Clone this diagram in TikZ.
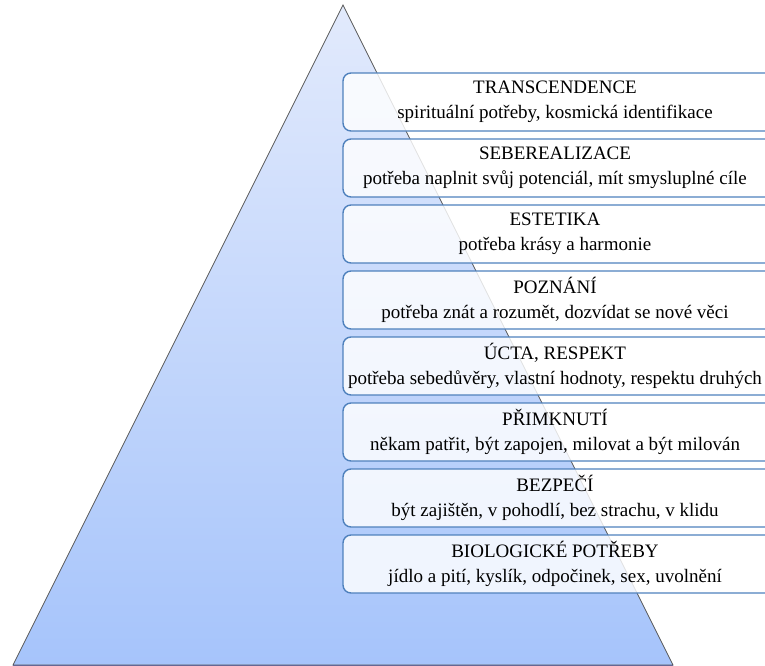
\documentclass[tikz,border=0pt]{standalone}
\usepackage{fontspec}
\setmainfont{Liberation Serif}
\definecolor{boxblue}{HTML}{4F81BD}
\definecolor{pyrtop}{HTML}{E2EAFC}
\definecolor{pyrbot}{HTML}{A6C4FB}
\begin{document}
\begin{tikzpicture}[x=1pt,y=-1pt,
  needbox/.style={draw=boxblue, line width=1.4pt, rounded corners=8pt, fill=white, fill opacity=0.82, text opacity=1},
  needtext/.style={align=center, font=\fontsize{19}{25}\selectfont, text=black}]
\useasboundingbox (0,0) rectangle (765,666);
\clip (0,0) rectangle (765,666);
\shade[top color=pyrtop, bottom color=pyrbot, draw=black!65, line width=0.8pt] (343,5) -- (673,665) -- (13,665) -- cycle;
\draw[draw=black!70!blue!60, line width=1pt] (13,665) -- (673,665);
\foreach \i/\ttl/\sub in {
 0/TRANSCENDENCE/{spirituální potřeby, kosmická identifikace},
 1/SEBEREALIZACE/{potřeba naplnit svůj potenciál, mít smysluplné cíle},
 2/ESTETIKA/{potřeba krásy a harmonie},
 3/POZNÁNÍ/{potřeba znát a rozumět, dozvídat se nové věci},
 4/{ÚCTA, RESPEKT}/{potřeba sebedůvěry, vlastní hodnoty, respektu druhých},
 5/PŘIMKNUTÍ/{někam patřit, být zapojen, milovat a být milován},
 6/BEZPEČÍ/{být zajištěn, v pohodlí, bez strachu, v klidu},
 7/{BIOLOGICKÉ POTŘEBY}/{jídlo a pití, kyslík, odpočinek, sex, uvolnění}} {
  \path[needbox] (343,73+66*\i) rectangle (775,131+66*\i);
  \node[needtext] (n\i) at (555,102+66*\i) {\ttl\\\sub};
}
\end{tikzpicture}
\end{document}
